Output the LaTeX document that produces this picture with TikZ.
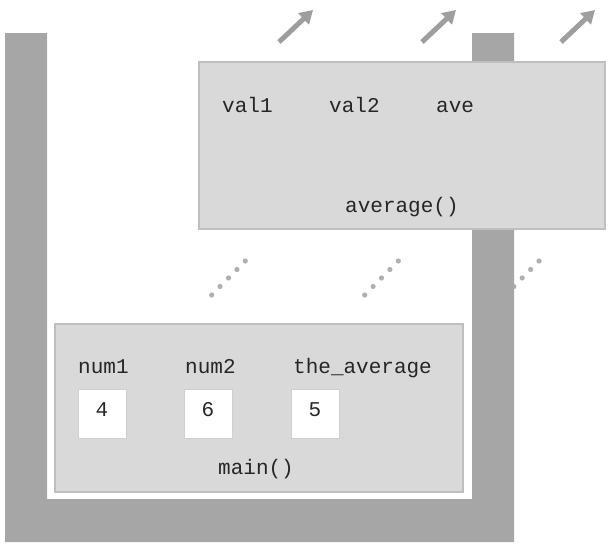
\documentclass[tikz,border=0pt]{standalone}
\usepackage{fontspec}
\setmonofont{Liberation Mono}
\usepackage{tikz}
\usetikzlibrary{arrows.meta}

\definecolor{stackgray}{HTML}{A6A6A6}
\definecolor{framefill}{HTML}{D9D9D9}
\definecolor{frameline}{HTML}{BFBFBF}
\definecolor{boxline}{HTML}{CFCFCF}
\definecolor{textgray}{HTML}{262626}

\tikzset{
	frame/.style={draw=frameline,fill=framefill,line width=1.2pt},
	varbox/.style={draw=boxline,fill=white,line width=1pt},
	varname/.style={anchor=base west,inner sep=0pt,text=textgray,font=\ttfamily\fontsize{21}{25}\selectfont},
	varval/.style={anchor=center,inner sep=0pt,text=textgray,font=\ttfamily\fontsize{21}{25}\selectfont},
	popout/.style={-{Triangle[length=13pt,width=15pt]},line width=5pt,draw=stackgray!95!black},
	dotline/.style={fill=stackgray!90!white}
}

\begin{document}
\begin{tikzpicture}[x=1pt,y=-1pt]
		\useasboundingbox (0,0) rectangle (610,546);

		% frames leaving the stack
		\coordinate (p1) at (279,42);
		\coordinate (p2) at (422,42);
		\coordinate (p3) at (561,42);
		\draw[popout] (p1) -- ++(34,-32);
		\draw[popout] (p2) -- ++(34,-32);
		\draw[popout] (p3) -- ++(34,-32);

		% dotted gaps between the frames
		\foreach \x in {211.7,364.7,505.4}
			\foreach \i in {0,...,4}
				\fill[dotline] (\x+8.4*\i,295-8.5*\i) circle [radius=2.6];

		% the stack
		\fill[stackgray] (5,33) -- (5,542) -- (514,542) -- (514,33) -- (472,33)
			-- (472,499) -- (47,499) -- (47,33) -- cycle;

		% average() frame
		\draw[frame] (199,62) rectangle (605,229);
		\node[varname] (val1) at (222,112) {val1};
		\node[varname] (val2) at (329,112) {val2};
		\node[varname] (ave) at (436,112) {ave};
		\node[varname] (average) at (345,212) {average()};

		% main() frame
		\draw[frame] (55,324) rectangle (463,492);
		\node[varname] (num1) at (78,373) {num1};
		\node[varname] (num2) at (185,373) {num2};
		\node[varname] (theaverage) at (293,373) {the\_average};
		\draw[varbox] (78,389) rectangle (126,438);
		\draw[varbox] (184,389) rectangle (232,438);
		\draw[varbox] (291,389) rectangle (339,438);
		\node[varval] (four) at (102,410) {4};
		\node[varval] (six) at (208,410) {6};
		\node[varval] (five) at (315,410) {5};
		\node[varname] (main) at (218,474) {main()};

	\end{tikzpicture}
\end{document}
